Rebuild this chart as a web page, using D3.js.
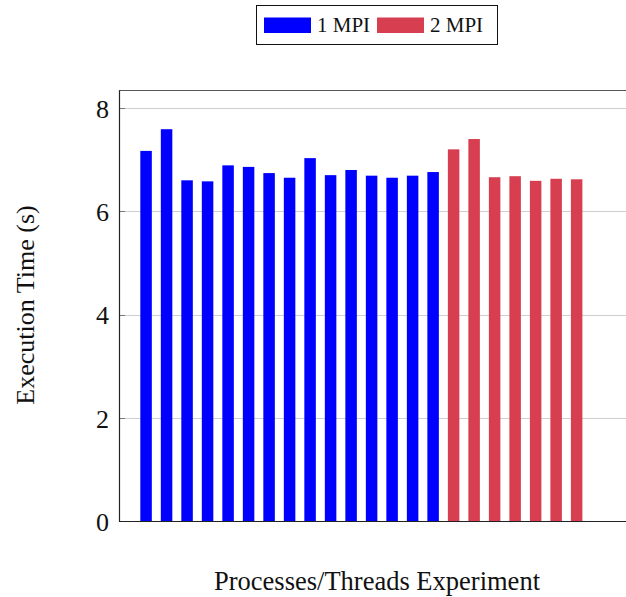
<!DOCTYPE html>
<html>
<head>
<meta charset="utf-8">
<script src="https://cdn.jsdelivr.net/npm/d3@7"></script>
<style>
  body { margin: 0; background: #fff; }
  text { font-family: "Liberation Serif", "Times New Roman", "DejaVu Serif", serif; }
</style>
</head>
<body>
<svg id="chart"></svg>
<script>
// Data: one value per run, blue = 1 MPI, red = 2 MPI
const mpi1 = [7.17, 7.59, 6.60, 6.58, 6.89, 6.86, 6.74, 6.65, 7.03, 6.70, 6.80, 6.69, 6.65, 6.69, 6.76];
const mpi2 = [7.20, 7.40, 6.66, 6.68, 6.59, 6.63, 6.62];
const seriesNames = ["1 MPI", "2 MPI"];
const yTicks = [0, 2, 4, 6, 8];

const colors = { "1 MPI": "#0000ff", "2 MPI": "#d73f51" };
const serif = "Liberation Serif, Times New Roman, DejaVu Serif, serif";

// bars placed one after another on the x axis
const bars = [];
mpi1.forEach(v => bars.push({ pos: bars.length + 1, value: v, series: "1 MPI" }));
mpi2.forEach(v => bars.push({ pos: bars.length + 1, value: v, series: "2 MPI" }));

const width = 626, height = 597;
const svg = d3.select("#chart").attr("width", width).attr("height", height);

// plot area (right edge runs past the window, as in the original)
const plotLeft = 119, plotRight = 632, plotTop = 90.5, plotBottom = 521;

const x = d3.scaleLinear().domain([-0.32, 24.7]).range([plotLeft, plotRight]);
const y = d3.scaleLinear().domain([0, 8.34]).range([plotBottom, plotTop]);
const barWidth = 11.5;

// grid lines
svg.append("g")
    .selectAll("line")
    .data(yTicks.filter(d => d > 0))
    .enter().append("line")
    .attr("x1", plotLeft).attr("x2", plotRight)
    .attr("y1", d => Math.round(y(d)) + 0.5)
    .attr("y2", d => Math.round(y(d)) + 0.5)
    .attr("stroke", "#cfcfcf")
    .attr("stroke-width", 1);

// bars
svg.append("g")
    .selectAll("rect")
    .data(bars)
    .enter().append("rect")
    .attr("x", d => x(d.pos) - barWidth / 2)
    .attr("width", barWidth)
    .attr("y", d => y(d.value))
    .attr("height", d => y(0) - y(d.value))
    .attr("fill", d => colors[d.series]);

// tick marks (inside the frame)
svg.append("g")
    .selectAll("line")
    .data(yTicks)
    .enter().append("line")
    .attr("x1", plotLeft).attr("x2", plotLeft + 6)
    .attr("y1", d => Math.round(y(d)) + 0.5)
    .attr("y2", d => Math.round(y(d)) + 0.5)
    .attr("stroke", "#777")
    .attr("stroke-width", 1);

// frame
svg.append("line").attr("x1", plotLeft).attr("x2", plotRight).attr("y1", plotTop).attr("y2", plotTop)
    .attr("stroke", "#555").attr("stroke-width", 1.2);
svg.append("line").attr("x1", plotLeft).attr("x2", plotRight).attr("y1", plotBottom + 0.5).attr("y2", plotBottom + 0.5)
    .attr("stroke", "#222").attr("stroke-width", 1.2);
svg.append("line").attr("x1", plotLeft + 0.5).attr("x2", plotLeft + 0.5).attr("y1", plotTop).attr("y2", plotBottom + 0.5)
    .attr("stroke", "#222").attr("stroke-width", 1.2);

// tick labels
svg.append("g")
    .selectAll("text")
    .data(yTicks)
    .enter().append("text")
    .attr("x", 109)
    .attr("y", d => y(d))
    .attr("dy", "0.38em")
    .attr("text-anchor", "end")
    .attr("font-family", serif)
    .attr("font-size", 26)
    .attr("fill", "#111")
    .text(d => d);

// axis labels
svg.append("text")
    .attr("x", 377)
    .attr("y", 590)
    .attr("text-anchor", "middle")
    .attr("font-family", serif)
    .attr("font-size", 26.5)
    .attr("fill", "#111")
    .text("Processes/Threads Experiment");

svg.append("text")
    .attr("transform", "translate(34,305) rotate(-90)")
    .attr("text-anchor", "middle")
    .attr("font-family", serif)
    .attr("font-size", 26)
    .attr("fill", "#111")
    .text("Execution Time (s)");

// legend
const legend = svg.append("g");
legend.append("rect")
    .attr("x", 256.5).attr("y", 5.5)
    .attr("width", 241).attr("height", 39)
    .attr("fill", "#fff").attr("stroke", "#111").attr("stroke-width", 1);

const legendX = [264, 377];
seriesNames.forEach((name, i) => {
    legend.append("rect")
        .attr("x", legendX[i]).attr("y", 17.5)
        .attr("width", 47).attr("height", 15.5)
        .attr("fill", colors[name]);
    legend.append("text")
        .attr("x", legendX[i] + 53)
        .attr("y", 32)
        .attr("font-family", serif)
        .attr("font-size", 21)
        .attr("fill", "#111")
        .text(name);
});
</script>
</body>
</html>
